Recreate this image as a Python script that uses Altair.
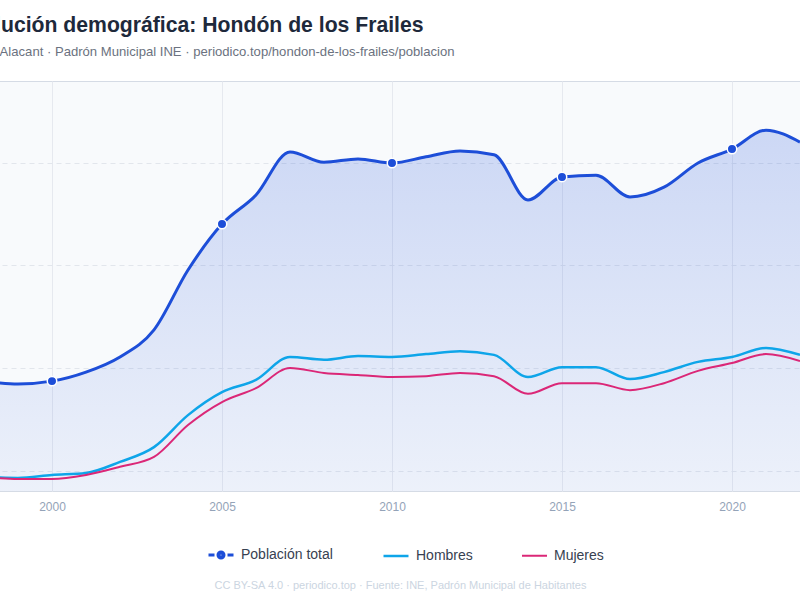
import altair as alt
import pandas as pd

# ---- data ----
years = list(range(1998, 2023))
total = [468, 461, 468, 490, 527, 593, 739, 851, 922, 1027, 1002, 1010, 1000,
         1015, 1029, 1020, 910, 966, 970, 917, 941, 1000, 1034, 1080, 1051]
hombres = [234, 232, 239, 244, 271, 307, 385, 441, 471, 527, 520, 529, 527,
           534, 541, 532, 478, 502, 502, 473, 490, 515, 527, 549, 532]
mujeres = [234, 229, 229, 239, 259, 283, 361, 417, 451, 500, 488, 483, 478,
           480, 488, 480, 437, 463, 463, 446, 463, 493, 512, 534, 517]

series_names = ["Población total", "Hombres", "Mujeres"]
series_colors = ["#1d4ed8", "#0ea5e9", "#db2777"]
series_widths = [3, 2, 2]
dot_years = [2000, 2005, 2010, 2015, 2020]
x_ticks = [2000, 2005, 2010, 2015, 2020]
y_ticks = [250, 500, 750, 1000]

title_text = "Evolución demográfica: Hondón de los Frailes"
subtitle_text = "Prov. – Alacant · Padrón Municipal INE · periodico.top/hondon-de-los-frailes/poblacion"
footer_text = "CC BY-SA 4.0 · periodico.top · Fuente: INE, Padrón Municipal de Habitantes"

# legend glyphs: line with a dot for the total, plain line for the others
legend_shapes = [
    "M-1,0L-0.52,0M0.52,0L1,0"
    "M-0.24,0A0.24,0.24 0 1,1 0.24,0A0.24,0.24 0 1,1 -0.24,0"
    "M-0.08,0A0.08,0.08 0 1,1 0.08,0A0.08,0.08 0 1,1 -0.08,0",
    "M-1,0L1,0",
    "M-1,0L1,0",
]

FONT = "Liberation Sans"

wide = pd.DataFrame({"year": years, "Población total": total,
                     "Hombres": hombres, "Mujeres": mujeres})
long = wide.melt("year", var_name="serie", value_name="habitantes")
tot = wide[["year", "Población total"]].rename(columns={"Población total": "habitantes"})
dots = tot[tot["year"].isin(dot_years)]

x_enc = alt.X(
    "year:Q",
    scale=alt.Scale(domain=[1998, 2024], nice=False, zero=False),
    axis=alt.Axis(
        values=x_ticks, format="d", title=footer_text,
        titleX=416, titleY=88, titleAlign="center", titleBaseline="top",
        titleFontSize=11, titleFontWeight="normal", titleColor="#cbd5e1", titleFont=FONT,
        labelColor="#94a3b8", labelFontSize=12, labelFont=FONT, labelPadding=10,
        ticks=False, domain=False, grid=True, gridColor="#e6e9ef", gridWidth=1,
    ),
)
y_enc = alt.Y(
    "habitantes:Q",
    scale=alt.Scale(domain=[200, 1200], nice=False, zero=False),
    axis=alt.Axis(
        values=y_ticks, title=None, labels=False, ticks=False, domain=False,
        grid=True, gridColor="#e2e6ec", gridDash=[5, 4], gridWidth=1,
    ),
)

legend = alt.Legend(
    title=None, orient="none", direction="horizontal", legendX=223, legendY=460,
    symbolSize=625, symbolStrokeWidth=3, symbolFillColor="#1d4ed8", symbolOpacity=1,
    labelFontSize=14, labelColor="#374151", labelFont=FONT, labelOffset=6,
    columnPadding=45,
)
color_enc = alt.Color("serie:N", scale=alt.Scale(domain=series_names, range=series_colors),
                      legend=legend)
shape_enc = alt.Shape("serie:N", scale=alt.Scale(domain=series_names, range=legend_shapes),
                      legend=legend)

gradient = alt.Gradient(
    gradient="linear",
    stops=[alt.GradientStop(color="rgba(29,78,216,0.20)", offset=0),
           alt.GradientStop(color="rgba(29,78,216,0.02)", offset=1)],
    x1=0, x2=0, y1=0, y2=1,
)

area = alt.Chart(tot).mark_area(interpolate="monotone", clip=True, color=gradient).encode(
    x=x_enc, y=y_enc)

lines = alt.Chart(long).mark_line(interpolate="monotone", clip=True).encode(
    x=x_enc, y=y_enc, color=color_enc,
    strokeWidth=alt.StrokeWidth("serie:N", scale=alt.Scale(domain=series_names, range=series_widths),
                                legend=None),
)

legend_keys = alt.Chart(long).mark_point(opacity=0, clip=True).encode(
    x=x_enc, y=y_enc, color=color_enc, shape=shape_enc)

points = alt.Chart(dots).mark_point(filled=True, size=90, color="#1d4ed8", stroke="white",
                                    strokeWidth=1.5, opacity=1).encode(x=x_enc, y=y_enc)

chart = alt.layer(area, lines, legend_keys, points).properties(
    width=884, height=410,
    autosize=alt.AutoSizeParams(type="none"),
    padding={"left": -16, "top": 81, "right": -68, "bottom": 109},
    background="white",
    title=alt.TitleParams(
        text=title_text, subtitle=subtitle_text, anchor="start", frame="group",
        dx=-27.8, offset=22, font=FONT, fontSize=21.2, fontWeight="bold", color="#1e293b",
        subtitleFont=FONT, subtitleFontSize=13.1, subtitleColor="#6b7280", subtitlePadding=10,
    ),
).configure_view(fill="#f8fafc", stroke="#d5dbe5", strokeWidth=1)

chart.save("out.html", embed_options={"renderer": "svg", "actions": False})
